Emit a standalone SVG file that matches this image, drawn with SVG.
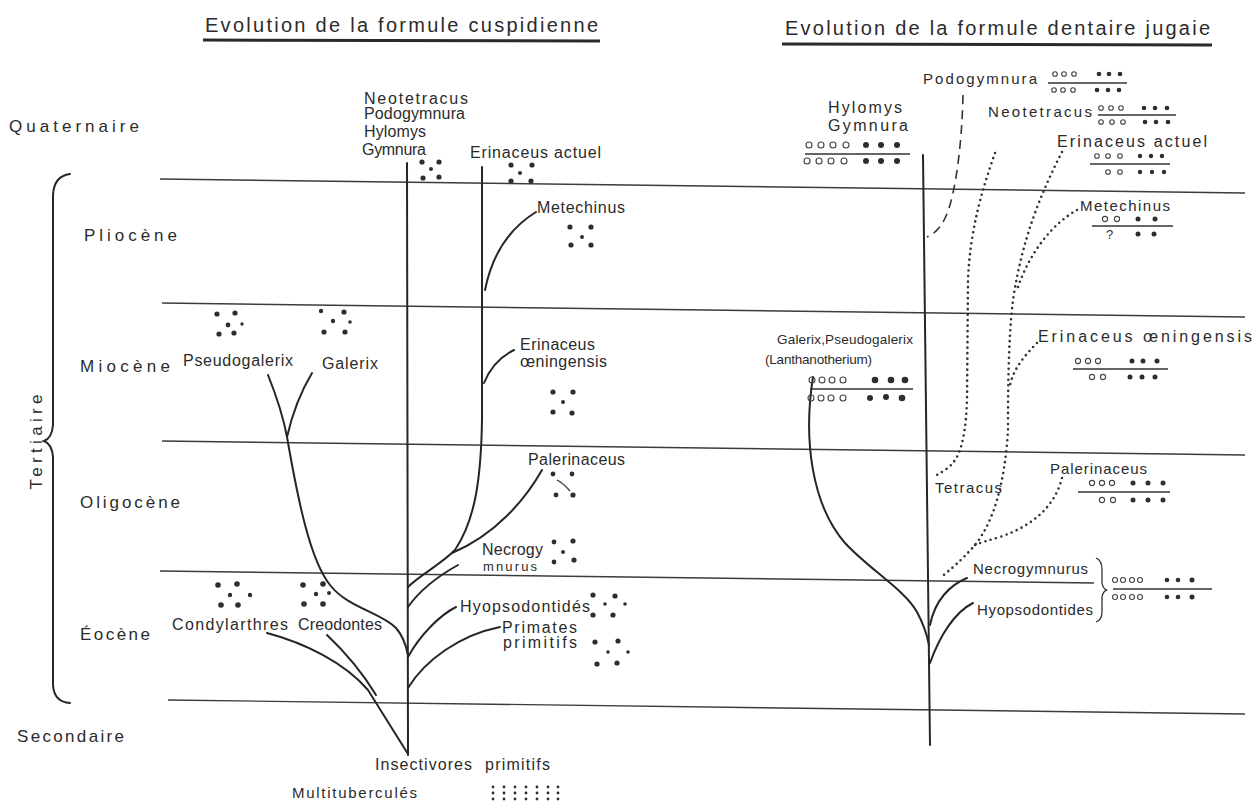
<svg xmlns="http://www.w3.org/2000/svg" width="1257" height="808" viewBox="0 0 1257 808">
<style>
.t{font-family:"Liberation Sans",Arial,sans-serif;fill:#2b2b2b;font-size:16px}
.s15{font-size:15px}
.s13{font-size:13px}
.s135{font-size:13.5px}
.s17{font-size:17px}
.s20{font-size:20px}
.hl{stroke:#3c3c3c;stroke-width:1.4;fill:none}
.br{fill:none;stroke:#262626;stroke-width:2;stroke-linecap:round}
.ul{stroke:#2a2a2a;stroke-width:3}
.dt{fill:none;stroke:#333;stroke-width:2.6;stroke-dasharray:0 5.5;stroke-linecap:round}
.da{fill:none;stroke:#333;stroke-width:1.6;stroke-dasharray:9 6}
.o{fill:none;stroke:#444;stroke-width:1.1}
.d{fill:#2e2e2e}
.fl{stroke:#333;stroke-width:1.3}
</style>
<rect width="1257" height="808" fill="#ffffff"/>

<g id="titles">
<text class="t s20" x="205" y="32" textLength="393">Evolution de la formule cuspidienne</text>
<line class="ul" x1="203" y1="40" x2="600" y2="41"/>
<text class="t s20" x="785" y="35" textLength="425">Evolution de la formule dentaire jugaie</text>
<line class="ul" x1="782" y1="44" x2="1212" y2="45"/>
</g>

<g id="epochs">
<line class="hl" x1="160" y1="179" x2="1245" y2="193"/>
<line class="hl" x1="162" y1="303" x2="1245" y2="317"/>
<line class="hl" x1="162" y1="441" x2="1245" y2="455"/>
<line class="hl" x1="160" y1="571" x2="1094" y2="583"/>
<line class="hl" x1="168" y1="700" x2="1245" y2="714"/>
<text class="t s17" x="9" y="132" textLength="130">Quaternaire</text>
<text class="t s17" x="84" y="241" textLength="93">Pliocène</text>
<text class="t s17" x="80" y="372" textLength="90">Miocène</text>
<text class="t s17" x="80" y="508" textLength="100">Oligocène</text>
<text class="t s17" x="80" y="640" textLength="70">Éocène</text>
<text class="t s17" x="17" y="742" textLength="107">Secondaire</text>
<text class="t s17" x="42" y="442" text-anchor="middle" transform="rotate(-90 42 442)" textLength="95">Tertiaire</text>
<path class="br" d="M70,174 Q54,176 53,195 L53,425 Q52,438 44,441 Q52,444 53,457 L53,685 Q54,702 70,703"/>
</g>

<g id="connectors">
<!-- left tree -->
<path class="br" d="M407,163 L408,755"/>
<path class="br" d="M482,167 L482,420 C481,480 475,520 455,550 C440,565 420,575 408,587"/>
<path class="br" d="M485,290 C492,255 510,228 536,212"/>
<path class="br" d="M484,383 C490,368 500,357 514,350"/>
<path class="br" d="M542,470 C525,500 495,535 452,553"/>
<path class="br" d="M408,607 C420,590 440,575 458,565"/>
<path class="br" d="M408,657 C420,635 440,615 456,607"/>
<path class="br" d="M408,688 C425,660 460,635 500,627"/>
<path class="br" d="M268,375 C276,395 283,415 287,437"/>
<path class="br" d="M312,373 C300,393 292,415 287,437"/>
<path class="br" d="M287,437 C298,500 310,560 330,585 C348,608 380,612 396,628 C403,636 406,645 408,655"/>
<path class="br" d="M267,633 C305,643 345,663 368,690 L408,754"/>
<path class="br" d="M327,635 C345,652 362,672 376,695"/>
<!-- right tree -->
<path class="br" d="M923,155 L930,745"/>
<path class="br" d="M813,377 C803,440 812,505 845,543 C870,570 905,590 917,612 C924,625 927,635 929,645"/>
<path class="br" d="M930,625 C935,600 950,585 967,578"/>
<path class="br" d="M930,663 C940,635 955,612 973,603"/>
<path class="da" d="M963,95 C962,140 957,180 950,205 C945,222 938,232 927,237"/>
<path class="dt" d="M995,153 C982,190 970,230 968,280 L967,400 C966,430 962,450 955,460 C950,468 942,472 935,476"/>
<path class="dt" d="M1062,152 C1040,195 1022,240 1013,300 C1008,340 1008,400 1008,430 C1005,480 995,520 975,545 C962,560 950,570 940,578"/>
<path class="dt" d="M1077,210 C1055,222 1030,250 1017,290"/>
<path class="dt" d="M1037,343 C1025,355 1014,368 1010,385"/>
<path class="dt" d="M1062,478 C1055,505 1035,525 1000,537 C990,540 982,542 975,545"/>
</g>

<!-- left nodes -->
<g id="l-gymnura">
<text class="t" x="364" y="104" textLength="104">Neotetracus</text>
<text class="t" x="364" y="119" textLength="101">Podogymnura</text>
<text class="t" x="364" y="137" textLength="62">Hylomys</text>
<text class="t" x="362" y="155" textLength="64">Gymnura</text>
<circle class="d" cx="422" cy="162" r="2.6"/><circle class="d" cx="439" cy="162" r="2.6"/><circle class="d" cx="431" cy="169" r="2"/><circle class="d" cx="423" cy="178" r="2.6"/><circle class="d" cx="439" cy="177" r="2.6"/>
</g>
<g id="l-erinaceus-actuel">
<text class="t" x="470" y="158" textLength="131">Erinaceus actuel</text>
<circle class="d" cx="511" cy="165" r="2.6"/><circle class="d" cx="532" cy="165" r="2.6"/><circle class="d" cx="520" cy="173" r="2"/><circle class="d" cx="511" cy="181" r="2.6"/><circle class="d" cx="531" cy="181" r="2.6"/>
</g>
<g id="l-metechinus">
<text class="t" x="537" y="213" textLength="88">Metechinus</text>
<circle class="d" cx="570" cy="227" r="2.6"/><circle class="d" cx="591" cy="227" r="2.6"/><circle class="d" cx="582" cy="237" r="2"/><circle class="d" cx="571" cy="245" r="2.6"/><circle class="d" cx="591" cy="245" r="2.6"/>
</g>
<g id="l-pseudogalerix">
<text class="t" x="183" y="366" textLength="110">Pseudogalerix</text>
<circle class="d" cx="217" cy="314" r="2.6"/><circle class="d" cx="235" cy="313" r="2.6"/><circle class="d" cx="228" cy="325" r="2.4"/><circle class="d" cx="242" cy="324" r="1.7"/><circle class="d" cx="219" cy="334" r="2.6"/><circle class="d" cx="234" cy="333" r="2.6"/>
</g>
<g id="l-galerix">
<text class="t" x="322" y="369" textLength="56">Galerix</text>
<circle class="d" cx="321" cy="311" r="2.2"/><circle class="d" cx="344" cy="312" r="2.6"/><circle class="d" cx="333" cy="321" r="2.2"/><circle class="d" cx="350" cy="322" r="1.8"/><circle class="d" cx="324" cy="332" r="2.6"/><circle class="d" cx="345" cy="332" r="2.6"/>
</g>
<g id="l-oeningensis">
<text class="t" x="520" y="350" textLength="75">Erinaceus</text>
<text class="t" x="520" y="367" textLength="87">œningensis</text>
<circle class="d" cx="553" cy="392" r="2.6"/><circle class="d" cx="573" cy="392" r="2.6"/><circle class="d" cx="563" cy="402" r="2"/><circle class="d" cx="553" cy="412" r="2.6"/><circle class="d" cx="572" cy="413" r="2.6"/>
</g>
<g id="l-palerinaceus">
<text class="t" x="528" y="465" textLength="97">Palerinaceus</text>
<circle class="d" cx="553" cy="474" r="2.4"/><circle class="d" cx="572" cy="474" r="2.4"/><circle class="d" cx="556" cy="495" r="2.4"/><circle class="d" cx="573" cy="495" r="2.6"/>
<path class="fl" fill="none" d="M557,480 Q563,483 570,491"/>
</g>
<g id="l-necrogymnurus">
<text class="t" x="482" y="555" textLength="61">Necrogy</text>
<text class="t s13" x="483" y="571" textLength="54">mnurus</text>
<circle class="d" cx="554" cy="542" r="2.4"/><circle class="d" cx="573" cy="541" r="2.6"/><circle class="d" cx="563" cy="552" r="2"/><circle class="d" cx="554" cy="562" r="2.4"/><circle class="d" cx="574" cy="560" r="2.6"/>
</g>
<g id="l-hyopsodontides">
<text class="t" x="460" y="612" textLength="130">Hyopsodontidés</text>
<circle class="d" cx="593" cy="595" r="2.6"/><circle class="d" cx="615" cy="596" r="2.6"/><circle class="d" cx="605" cy="604" r="1.8"/><circle class="d" cx="625" cy="604" r="1.8"/><circle class="d" cx="593" cy="615" r="2.6"/><circle class="d" cx="613" cy="615" r="2.6"/>
</g>
<g id="l-primates">
<text class="t" x="502" y="633" textLength="75">Primates</text>
<text class="t" x="503" y="648" textLength="74">primitifs</text>
<circle class="d" cx="595" cy="642" r="2.6"/><circle class="d" cx="618" cy="641" r="2.6"/><circle class="d" cx="608" cy="652" r="1.8"/><circle class="d" cx="628" cy="652" r="1.8"/><circle class="d" cx="597" cy="664" r="2.6"/><circle class="d" cx="617" cy="663" r="2.6"/>
</g>
<g id="l-condylarthres">
<text class="t" x="172" y="630" textLength="116">Condylarthres</text>
<circle class="d" cx="218" cy="585" r="2.8"/><circle class="d" cx="237" cy="584" r="2.8"/><circle class="d" cx="230" cy="595" r="2.2"/><circle class="d" cx="250" cy="595" r="2.2"/><circle class="d" cx="221" cy="605" r="2.8"/><circle class="d" cx="238" cy="605" r="2.8"/>
</g>
<g id="l-creodontes">
<text class="t" x="298" y="630" textLength="84">Creodontes</text>
<circle class="d" cx="303" cy="585" r="2.8"/><circle class="d" cx="323" cy="584" r="2.8"/><circle class="d" cx="316" cy="594" r="2.2"/><circle class="d" cx="329" cy="593" r="2"/><circle class="d" cx="304" cy="604" r="2.8"/><circle class="d" cx="323" cy="604" r="2.8"/>
</g>
<g id="l-insectivores">
<text class="t" y="770"><tspan x="375" textLength="97">Insectivores</tspan><tspan x="485" textLength="65">primitifs</tspan></text>
</g>
<g id="l-multitubercules">
<text class="t s15" x="292" y="798" textLength="125">Multituberculés</text>
<g class="d">
<circle cx="493" cy="787" r="1.4"/><circle cx="504" cy="787" r="1.4"/><circle cx="515" cy="787" r="1.4"/><circle cx="526" cy="787" r="1.4"/><circle cx="537" cy="787" r="1.4"/><circle cx="548" cy="787" r="1.4"/><circle cx="558" cy="787" r="1.4"/>
<circle cx="493" cy="793" r="1.4"/><circle cx="504" cy="793" r="1.4"/><circle cx="515" cy="793" r="1.4"/><circle cx="526" cy="793" r="1.4"/><circle cx="537" cy="793" r="1.4"/><circle cx="548" cy="793" r="1.4"/><circle cx="558" cy="793" r="1.4"/>
<circle cx="493" cy="799" r="1.4"/><circle cx="504" cy="799" r="1.4"/><circle cx="515" cy="799" r="1.4"/><circle cx="526" cy="799" r="1.4"/><circle cx="537" cy="799" r="1.4"/><circle cx="548" cy="799" r="1.4"/><circle cx="558" cy="799" r="1.4"/>
</g>
</g>

<!-- right nodes -->
<g id="r-podogymnura">
<text class="t s15" x="923" y="84" textLength="114">Podogymnura</text>
<circle class="o" cx="1055" cy="74" r="2.3"/><circle class="o" cx="1064" cy="74" r="2.3"/><circle class="o" cx="1074" cy="74" r="2.3"/><circle class="d" cx="1099" cy="74" r="2.3"/><circle class="d" cx="1109" cy="74" r="2.3"/><circle class="d" cx="1120" cy="74" r="2.3"/>
<line class="fl" x1="1048" y1="83" x2="1127" y2="83"/>
<circle class="o" cx="1054" cy="90" r="2.3"/><circle class="o" cx="1063" cy="90" r="2.3"/><circle class="o" cx="1073" cy="90" r="2.3"/><circle class="d" cx="1097" cy="90" r="2.3"/><circle class="d" cx="1108" cy="90" r="2.3"/><circle class="d" cx="1119" cy="90" r="2.3"/>
</g>
<g id="r-neotetracus">
<text class="t s15" x="988" y="117" textLength="104">Neotetracus</text>
<circle class="o" cx="1101" cy="108" r="2.3"/><circle class="o" cx="1111" cy="108" r="2.3"/><circle class="o" cx="1121" cy="108" r="2.3"/><circle class="d" cx="1144" cy="108" r="2.3"/><circle class="d" cx="1155" cy="108" r="2.3"/><circle class="d" cx="1167" cy="108" r="2.3"/>
<line class="fl" x1="1098" y1="115" x2="1176" y2="115"/>
<circle class="o" cx="1101" cy="122" r="2.3"/><circle class="o" cx="1112" cy="122" r="2.3"/><circle class="o" cx="1123" cy="122" r="2.3"/><circle class="d" cx="1145" cy="122" r="2.3"/><circle class="d" cx="1156" cy="122" r="2.3"/><circle class="d" cx="1168" cy="122" r="2.3"/>
</g>
<g id="r-hylomys-gymnura">
<text class="t" x="828" y="113" textLength="74">Hylomys</text>
<text class="t" x="828" y="131" textLength="80">Gymnura</text>
<circle class="o" cx="809" cy="145" r="3"/><circle class="o" cx="821" cy="145" r="3"/><circle class="o" cx="833" cy="145" r="3"/><circle class="o" cx="846" cy="145" r="3"/><circle class="d" cx="866" cy="145" r="3"/><circle class="d" cx="881" cy="145" r="3"/><circle class="d" cx="897" cy="145" r="3"/>
<line class="fl" x1="805" y1="154" x2="910" y2="154"/>
<circle class="o" cx="807" cy="161" r="3"/><circle class="o" cx="819" cy="161" r="3"/><circle class="o" cx="831" cy="161" r="3"/><circle class="o" cx="844" cy="161" r="3"/><circle class="d" cx="866" cy="161" r="3"/><circle class="d" cx="881" cy="161" r="3"/><circle class="d" cx="897" cy="161" r="3"/>
</g>
<g id="r-erinaceus-actuel">
<text class="t" x="1057" y="147" textLength="150">Erinaceus actuel</text>
<circle class="o" cx="1097" cy="156" r="2.3"/><circle class="o" cx="1108" cy="156" r="2.3"/><circle class="o" cx="1120" cy="156" r="2.3"/><circle class="d" cx="1140" cy="156" r="2.2"/><circle class="d" cx="1151" cy="156" r="2.2"/><circle class="d" cx="1162" cy="156" r="2.2"/>
<line class="fl" x1="1090" y1="164" x2="1170" y2="164"/>
<circle class="o" cx="1108" cy="172" r="2.3"/><circle class="o" cx="1120" cy="172" r="2.3"/><circle class="d" cx="1140" cy="172" r="2.2"/><circle class="d" cx="1152" cy="172" r="2.2"/><circle class="d" cx="1164" cy="172" r="2.2"/>
</g>
<g id="r-metechinus">
<text class="t s15" x="1080" y="211" textLength="90">Metechinus</text>
<circle class="o" cx="1105" cy="219" r="2.6"/><circle class="o" cx="1117" cy="219" r="2.6"/><circle class="d" cx="1138" cy="219" r="2.5"/><circle class="d" cx="1155" cy="219" r="2.5"/>
<line class="fl" x1="1092" y1="226" x2="1173" y2="226"/>
<text class="t s13" x="1106" y="239">?</text>
<circle class="d" cx="1138" cy="234" r="2.5"/><circle class="d" cx="1154" cy="234" r="2.5"/>
</g>
<g id="r-galerix">
<text class="t s135" x="777" y="344" textLength="136">Galerix,Pseudogalerix</text>
<text class="t s135" x="765" y="364" textLength="107">(Lanthanotherium)</text>
<circle class="o" cx="812" cy="380" r="3"/><circle class="o" cx="822" cy="380" r="3"/><circle class="o" cx="832" cy="380" r="3"/><circle class="o" cx="843" cy="380" r="3"/><circle class="d" cx="875" cy="380" r="3.3"/><circle class="d" cx="891" cy="380" r="3.3"/><circle class="d" cx="905" cy="380" r="3.3"/>
<line class="fl" x1="810" y1="389" x2="913" y2="389"/>
<circle class="o" cx="811" cy="398" r="3"/><circle class="o" cx="821" cy="398" r="3"/><circle class="o" cx="831" cy="398" r="3"/><circle class="o" cx="843" cy="398" r="3"/><circle class="d" cx="870" cy="398" r="3"/><circle class="d" cx="886" cy="397" r="3"/><circle class="d" cx="902" cy="398" r="3.3"/>
</g>
<g id="r-oeningensis">
<text class="t" x="1038" y="342" textLength="214">Erinaceus œningensis</text>
<circle class="o" cx="1078" cy="361" r="2.6"/><circle class="o" cx="1088" cy="361" r="2.6"/><circle class="o" cx="1098" cy="361" r="2.6"/><circle class="d" cx="1132" cy="361" r="2.5"/><circle class="d" cx="1143" cy="361" r="2.5"/><circle class="d" cx="1157" cy="361" r="2.5"/>
<line class="fl" x1="1073" y1="369" x2="1168" y2="369"/>
<circle class="o" cx="1092" cy="377" r="2.6"/><circle class="o" cx="1103" cy="377" r="2.6"/><circle class="d" cx="1130" cy="377" r="2.5"/><circle class="d" cx="1142" cy="377" r="2.5"/><circle class="d" cx="1155" cy="377" r="2.5"/>
</g>
<g id="r-tetracus">
<text class="t s15" x="935" y="493" textLength="67">Tetracus</text>
</g>
<g id="r-palerinaceus">
<text class="t s15" x="1050" y="474" textLength="97">Palerinaceus</text>
<circle class="o" cx="1092" cy="483" r="2.6"/><circle class="o" cx="1102" cy="483" r="2.6"/><circle class="o" cx="1112" cy="483" r="2.6"/><circle class="d" cx="1133" cy="483" r="2.5"/><circle class="d" cx="1148" cy="483" r="2.5"/><circle class="d" cx="1163" cy="483" r="2.5"/>
<line class="fl" x1="1078" y1="492" x2="1170" y2="492"/>
<circle class="o" cx="1102" cy="500" r="2.6"/><circle class="o" cx="1113" cy="500" r="2.6"/><circle class="d" cx="1133" cy="500" r="2.5"/><circle class="d" cx="1148" cy="500" r="2.5"/><circle class="d" cx="1163" cy="500" r="2.5"/>
</g>
<g id="r-necrogymnurus-hyopsodontides">
<text class="t s15" x="973" y="574" textLength="115">Necrogymnurus</text>
<text class="t s15" x="977" y="615" textLength="116">Hyopsodontides</text>
<path class="fl" fill="none" d="M1096,558 Q1102,560 1102,570 L1102,583 Q1103,589 1107,590 Q1103,591 1102,597 L1102,612 Q1102,620 1096,622"/>
<circle class="o" cx="1115" cy="580" r="2.5"/><circle class="o" cx="1123" cy="580" r="2.5"/><circle class="o" cx="1132" cy="580" r="2.5"/><circle class="o" cx="1140" cy="580" r="2.5"/><circle class="d" cx="1167" cy="580" r="2.3"/><circle class="d" cx="1178" cy="580" r="2.3"/><circle class="d" cx="1192" cy="580" r="2.5"/>
<line class="fl" x1="1113" y1="589" x2="1212" y2="589"/>
<circle class="o" cx="1115" cy="597" r="2.5"/><circle class="o" cx="1123" cy="597" r="2.5"/><circle class="o" cx="1132" cy="597" r="2.5"/><circle class="o" cx="1140" cy="597" r="2.5"/><circle class="d" cx="1167" cy="597" r="2.3"/><circle class="d" cx="1178" cy="597" r="2.3"/><circle class="d" cx="1192" cy="597" r="2.5"/>
</g>
</svg>
